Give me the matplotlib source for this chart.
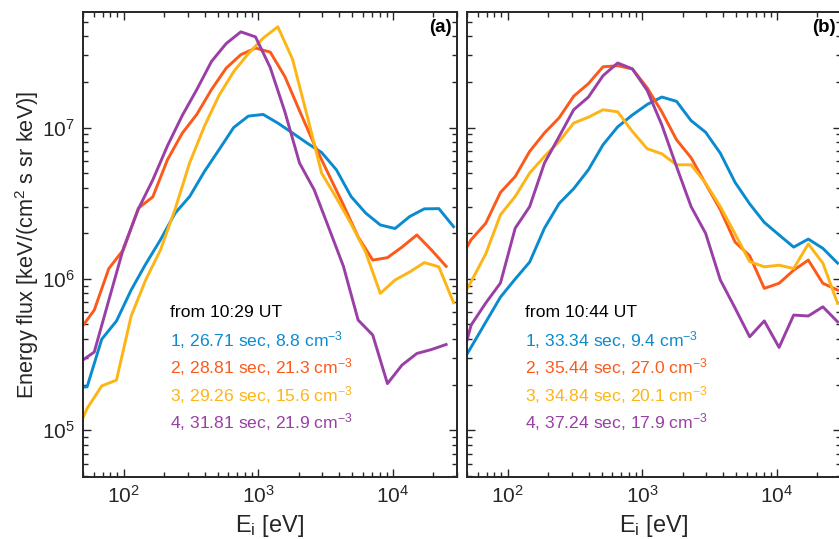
import matplotlib
matplotlib.use("Agg")
import matplotlib.pyplot as plt
from matplotlib.ticker import LogLocator, NullFormatter

plt.rcParams["font.family"] = ["Liberation Sans", "DejaVu Sans"]
plt.rcParams["mathtext.fontset"] = "custom"
plt.rcParams["mathtext.rm"] = "Liberation Sans"
plt.rcParams["mathtext.it"] = "Liberation Sans:italic"
plt.rcParams["mathtext.bf"] = "Liberation Sans:bold"

# two interleaved energy tables (eV), high -> low
energy_a = [28300, 22000, 17150, 13350, 10400, 8080, 6290, 4900, 3810, 2960,
            2310, 1800, 1400, 1090, 846, 658, 512, 399, 310, 242, 188, 146,
            114, 88.6, 68.9, 53.6, 41.7]
energy_b = [24900, 19400, 15100, 11700, 9130, 7100, 5530, 4300, 3350, 2610,
            2030, 1580, 1230, 956, 744, 579, 450, 350, 273, 212, 165, 129,
            100, 77.8, 60.6, 47.2]

# panel (a), from 10:29 UT
flux_a1 = [2.21e6, 2.91e6, 2.90e6, 2.58e6, 2.15e6, 2.27e6, 2.72e6, 3.50e6, 5.26e6,
           6.84e6, 7.89e6, 9.20e6, 1.07e7, 1.22e7, 1.19e7, 1.00e7, 7.13e6, 5.12e6,
           3.50e6, 2.72e6, 1.81e6, 1.25e6, 8.44e5, 5.26e5, 3.99e5, 1.93e5, 1.93e5]
flux_a2 = [1.21e6, 1.55e6, 1.95e6, 1.62e6, 1.38e6, 1.33e6, 1.89e6, 3.08e6, 4.87e6,
           7.74e6, 1.29e7, 2.17e7, 3.15e7, 3.35e7, 3.03e7, 2.47e7, 1.78e7, 1.22e7,
           9.17e6, 6.12e6, 3.48e6, 2.93e6, 1.56e6, 1.17e6, 6.21e5, 4.58e5]
flux_a3 = [6.95e5, 1.20e6, 1.28e6, 1.11e6, 9.82e5, 8.01e5, 1.50e6, 2.31e6, 3.43e6,
           5.00e6, 1.20e7, 2.83e7, 4.63e7, 3.90e7, 3.08e7, 2.34e7, 1.63e7, 1.02e7,
           5.85e6, 2.90e6, 1.55e6, 9.82e5, 5.68e5, 2.14e5, 1.96e5, 1.39e5, 8.3e4]
flux_a4 = [3.68e5, 3.41e5, 3.21e5, 2.69e5, 2.03e5, 4.25e5, 5.34e5, 1.21e6, 2.17e6,
           3.87e6, 5.82e6, 1.27e7, 2.49e7, 3.97e7, 4.29e7, 3.59e7, 2.73e7, 1.78e7,
           1.20e7, 7.57e6, 4.51e6, 2.90e6, 1.60e6, 7.24e5, 3.28e5, 2.81e5]

# panel (b), from 10:44 UT
flux_b1 = [1.27e6, 1.59e6, 1.83e6, 1.62e6, 1.95e6, 2.36e6, 3.13e6, 4.34e6, 6.76e6,
           9.31e6, 1.11e7, 1.49e7, 1.59e7, 1.42e7, 1.21e7, 1.01e7, 7.69e6, 5.26e6,
           3.94e6, 3.15e6, 2.16e6, 1.29e6, 9.97e5, 7.57e5, 5.17e5, 3.53e5, 2.42e5]
flux_b2 = [8.43e5, 9.34e5, 1.33e6, 1.14e6, 9.34e5, 8.65e5, 1.42e6, 1.75e6, 2.86e6,
           4.25e6, 6.31e6, 8.30e6, 1.27e7, 1.83e7, 2.44e7, 2.56e7, 2.52e7, 1.95e7,
           1.61e7, 1.16e7, 9.20e6, 6.95e6, 4.74e6, 3.72e6, 2.33e6, 1.81e6, 1.23e6]
flux_b3 = [6.88e5, 1.27e6, 1.70e6, 1.17e6, 1.23e6, 1.20e6, 1.30e6, 1.98e6, 3.00e6,
           4.29e6, 5.67e6, 5.67e6, 6.70e6, 7.24e6, 9.42e6, 1.27e7, 1.31e7, 1.17e7,
           1.07e7, 8.09e6, 6.44e6, 5.00e6, 3.50e6, 2.65e6, 1.46e6, 9.57e5, 6.50e5]
flux_b4 = [5.20e5, 6.53e5, 5.68e5, 5.76e5, 3.52e5, 5.27e5, 4.14e5, 6.41e5, 9.82e5,
           2.00e6, 3.00e6, 5.52e6, 1.04e7, 1.76e7, 2.44e7, 2.67e7, 2.20e7, 1.59e7,
           1.31e7, 8.73e6, 5.82e6, 3.00e6, 2.16e6, 9.38e5, 6.92e5, 4.94e5, 2.14e5]

labels_a = ["1, 26.71 sec, 8.8 cm$^{-3}$", "2, 28.81 sec, 21.3 cm$^{-3}$",
            "3, 29.26 sec, 15.6 cm$^{-3}$", "4, 31.81 sec, 21.9 cm$^{-3}$"]
labels_b = ["1, 33.34 sec, 9.4 cm$^{-3}$", "2, 35.44 sec, 27.0 cm$^{-3}$",
            "3, 34.84 sec, 20.1 cm$^{-3}$", "4, 37.24 sec, 17.9 cm$^{-3}$"]

colors = ["#0a8bd0", "#fc5a1b", "#fdb515", "#9a3fa6"]
spine_col = "#262626"


def style_axes(ax):
    ax.set_xscale("log")
    ax.set_yscale("log")
    ax.set_xlim(50, 3e4)
    ax.set_ylim(4.9e4, 5.8e7)
    ax.xaxis.set_major_locator(LogLocator(base=10, numticks=10))
    ax.xaxis.set_minor_locator(LogLocator(base=10, subs=range(2, 10), numticks=20))
    ax.yaxis.set_major_locator(LogLocator(base=10, numticks=10))
    ax.yaxis.set_minor_locator(LogLocator(base=10, subs=range(2, 10), numticks=20))
    ax.xaxis.set_minor_formatter(NullFormatter())
    ax.yaxis.set_minor_formatter(NullFormatter())
    ax.tick_params(which="both", direction="in", top=True, right=True,
                   colors=spine_col, labelcolor="#262626", width=1.0)
    ax.tick_params(which="major", length=6, labelsize=15, pad=6)
    ax.tick_params(which="minor", length=3.5)
    for s in ax.spines.values():
        s.set_color(spine_col)
        s.set_linewidth(1.4)


fig = plt.figure(figsize=(8.39, 5.39), dpi=100)
ax1 = fig.add_axes([83 / 839, 62 / 539, 374 / 839, 465 / 539])
ax2 = fig.add_axes([467 / 839, 62 / 539, 374 / 839, 465 / 539])

# panel (a)
ax1.plot(energy_a, flux_a1, color=colors[0], lw=2.1)
ax1.plot(energy_b, flux_a2, color=colors[1], lw=2.1)
ax1.plot(energy_a, flux_a3, color=colors[2], lw=2.1)
ax1.plot(energy_b, flux_a4, color=colors[3], lw=2.1)
style_axes(ax1)
ax1.set_xlabel("E$_\\mathrm{i}$ [eV]", fontsize=17, color="#262626")
ax1.set_ylabel("Energy flux [keV/(cm$^2$ s sr keV)]", fontsize=15.7, color="#262626")
ax1.yaxis.set_label_coords(-0.112, 0.5)
ax1.text(0.987, 0.966, "(a)", transform=ax1.transAxes, ha="right", va="center",
         fontsize=13.5, fontweight="bold")

# panel (b)
ax2.plot(energy_a, flux_b1, color=colors[0], lw=2.1)
ax2.plot(energy_a, flux_b2, color=colors[1], lw=2.1)
ax2.plot(energy_a, flux_b3, color=colors[2], lw=2.1)
ax2.plot(energy_a, flux_b4, color=colors[3], lw=2.1)
style_axes(ax2)
ax2.set_yticklabels([])
ax2.set_xlabel("E$_\\mathrm{i}$ [eV]", fontsize=17, color="#262626")
ax2.text(0.987, 0.966, "(b)", transform=ax2.transAxes, ha="right", va="center",
         fontsize=13.5, fontweight="bold")

# text legends
rows = [0.2946, 0.2372, 0.1763, 0.1189]
ax1.text(0.2326, 0.3533, "from 10:29 UT", transform=ax1.transAxes,
         va="center", fontsize=12.6, color="black")
ax2.text(0.155, 0.3533, "from 10:44 UT", transform=ax2.transAxes,
         va="center", fontsize=12.6, color="black")
for i in range(4):
    ax1.text(0.2326, rows[i], labels_a[i], transform=ax1.transAxes,
             va="center", fontsize=12.6, color=colors[i])
    ax2.text(0.155, rows[i], labels_b[i], transform=ax2.transAxes,
             va="center", fontsize=12.6, color=colors[i])

fig.savefig("out.png", dpi=100)
